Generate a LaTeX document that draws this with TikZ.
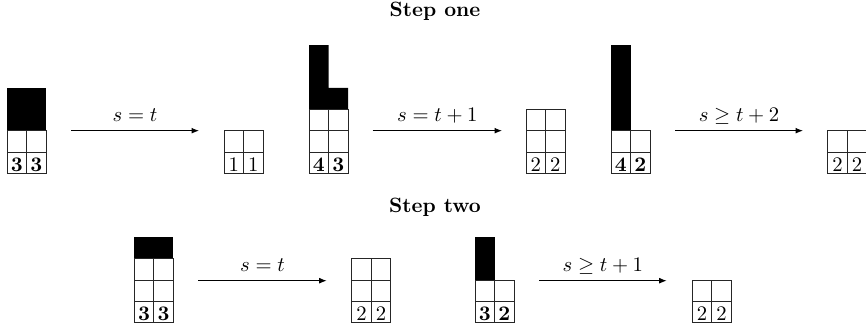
\documentclass[tikz,border=0pt]{standalone}
\usetikzlibrary{arrows.meta}
\def\W{19.5}
\def\H{21.4}
\tikzset{
  gridline/.style={line width=0.45pt, draw=black!85},
  blk/.style={fill=black},
  arr/.style={line width=0.45pt, -{Latex[length=3.6pt,width=2.8pt]}},
  lbl/.style={anchor=base, yshift=4.6pt, inner sep=0pt},
  dig/.style={anchor=base, inner sep=0pt},
  ttl/.style={anchor=base, font=\bfseries, inner sep=0pt}
}
% #1 name, #2 left x, #3 bottom y, #4 white rows, #5 left digit, #6 right digit
\newcommand{\tabwhite}[6]{%
  \coordinate (#1) at (#2,#3);
  \foreach \i in {1,...,#4}{
    \foreach \j in {0,1}{
      \draw[gridline] (#2+\j*\W,#3-\i*\H+\H) rectangle ++(\W,-\H);
    }
  }
  \node[dig] (#1-l) at (#2+0.5*\W,#3-2.2) {#5};
  \node[dig] (#1-r) at (#2+1.5*\W,#3-2.2) {#6};
}
\begin{document}
\begin{tikzpicture}[x=0.483pt,y=-0.483pt]
\useasboundingbox (0,0) rectangle (866,326);

% titles
\node[ttl] (t1) at (435,16.7) {Step one};
\node[ttl] (t2) at (435,212.7) {Step two};

% ---------- Row 1 ----------
% A: 3 3
\fill[blk] (7,173.5-2*\H) rectangle (7+2*\W,173.5-4*\H);
\tabwhite{A}{7}{173.5}{2}{\textbf{3}}{\textbf{3}}
% B: 1 1
\tabwhite{B}{224}{173.5}{2}{1}{1}
% C: 4 3
\fill[blk] (309,173.5-3*\H) -- (309+2*\W,173.5-3*\H) -- (309+2*\W,173.5-4*\H)
  -- (309+\W,173.5-4*\H) -- (309+\W,173.5-6*\H) -- (309,173.5-6*\H) -- cycle;
\tabwhite{C}{309}{173.5}{3}{\textbf{4}}{\textbf{3}}
% D: 2 2
\tabwhite{D}{526}{173.5}{3}{2}{2}
% E: 4 2
\fill[blk] (611,173.5-2*\H) rectangle (611+\W,173.5-6*\H);
\tabwhite{E}{611}{173.5}{2}{\textbf{4}}{\textbf{2}}
% F: 2 2
\tabwhite{F}{827.7}{173.5}{2}{2}{2}

% arrows row 1
\coordinate (a1s) at (71,130.7);  \coordinate (a1e) at (199,130.7);
\coordinate (a2s) at (372.7,130.7); \coordinate (a2e) at (502,130.7);
\coordinate (a3s) at (675,130.7); \coordinate (a3e) at (803,130.7);
\draw[arr] (a1s) -- node[lbl] (l1) {$s=t$} (a1e);
\draw[arr] (a2s) -- node[lbl] (l2) {$s=t+1$} (a2e);
\draw[arr] (a3s) -- node[lbl] (l3) {$s\geq t+2$} (a3e);

% ---------- Row 2 ----------
% G: 3 3
\fill[blk] (134.3,322.8-3*\H) rectangle (134.3+2*\W,322.8-4*\H);
\tabwhite{G}{134.3}{322.8}{3}{\textbf{3}}{\textbf{3}}
% H: 2 2
\tabwhite{H}{351.7}{322.8}{3}{2}{2}
% I: 3 2
\fill[blk] (475,322.8-2*\H) rectangle (475+\W,322.8-4*\H);
\tabwhite{I}{475}{322.8}{2}{\textbf{3}}{\textbf{2}}
% J: 2 2
\tabwhite{J}{692.3}{322.8}{2}{2}{2}

\coordinate (a4s) at (198.3,280.7); \coordinate (a4e) at (326.7,280.7);
\coordinate (a5s) at (539,280.7); \coordinate (a5e) at (666.7,280.7);
\draw[arr] (a4s) -- node[lbl] (l4) {$s=t$} (a4e);
\draw[arr] (a5s) -- node[lbl] (l5) {$s\geq t+1$} (a5e);
\end{tikzpicture}
\end{document}
